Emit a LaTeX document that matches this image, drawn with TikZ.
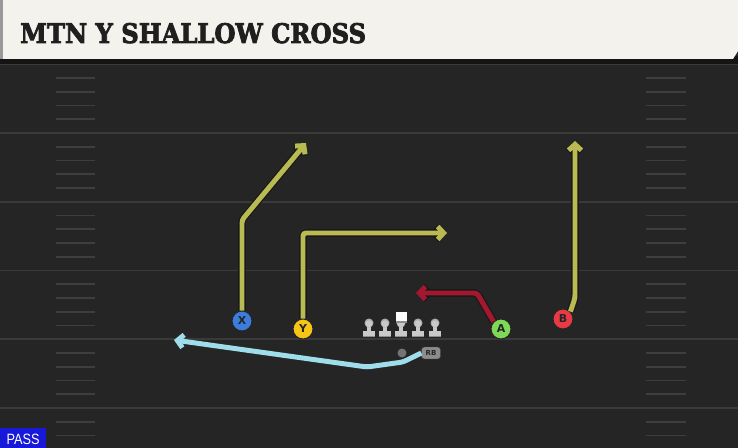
\documentclass[tikz,border=0pt]{standalone}
\usepackage{fontspec}
\setmainfont{DejaVu Sans}
\newfontfamily\titlefont{DejaVu Serif}[BoldFeatures={FakeBold=3}]
\newfontfamily\passfont{Liberation Sans}
\usetikzlibrary{arrows.meta}
\definecolor{field}{HTML}{252525}
\definecolor{yardc}{HTML}{3A3A3A}
\definecolor{hashc}{HTML}{3E3E3E}
\definecolor{cream}{HTML}{F4F2EC}
\definecolor{olive}{HTML}{BABA52}
\definecolor{crimson}{HTML}{A3182F}
\definecolor{skyb}{HTML}{A0DDEA}
\definecolor{xblue}{HTML}{3B7DDD}
\definecolor{yyel}{HTML}{F5C518}
\definecolor{agreen}{HTML}{7ED957}
\definecolor{bred}{HTML}{E83A45}
\definecolor{lmgray}{HTML}{C9C9C9}
\definecolor{passblue}{HTML}{1818D8}
\tikzset{
  player/.style={circle, minimum size=20bp, inner sep=0pt, draw=black!85, line width=1pt,
    font=\bfseries\fontsize{11}{11}\selectfont, text=black!85},
  routeout/.style={draw=black!90, line width=7.6pt, rounded corners=3pt,
    -{Straight Barb[length=6pt,width=13pt]}},
  routein/.style={draw=#1, line width=5pt, rounded corners=3pt,
    -{Straight Barb[length=6pt,width=13pt]}},
  yardline/.style={draw=yardc, line width=2pt},
  hashline/.style={draw=hashc, line width=1.6pt},
  lman/.pic={
    \fill[lmgray!70!black] (-6,9) rectangle (6,14);
    \fill[lmgray] (-6,8.5) rectangle (6,13);
    \fill[lmgray] (-2.2,0) rectangle (2.2,9);
    \fill[lmgray!85!black] (0,0) circle (4.5);
    \fill[lmgray] (0,0.7) circle (3.5);
  },
}
\newcommand{\myroute}[2]{\draw[routeout] #2; \draw[routein=#1] #2;}
\begin{document}
\begin{tikzpicture}[x=1bp,y=-1bp]
\useasboundingbox (0,0) rectangle (738,448);
% field
\fill[field] (0,0) rectangle (738,448);
\foreach \yl in {64.25,133,201.75,270.5,339.25,408}{
  \draw[yardline] (0,\yl) -- (738,\yl);
  \foreach \k in {1,2,3,4}{
    \draw[hashline] (56,\yl+13.75*\k) -- (95,\yl+13.75*\k);
    \draw[hashline] (646,\yl+13.75*\k) -- (686,\yl+13.75*\k);
  }
}
% title bar
\fill[black!92] (0,56) rectangle (738,64);
\fill[cream] (0,0) -- (738,0) -- (738,51) -- (733,59) -- (0,59) -- cycle;
\fill[black!40] (0,0) rectangle (3,59);
\node[anchor=base west, inner sep=0pt, text=black!88,
  font=\titlefont\bfseries\fontsize{27}{27}\selectfont] (title) at (20,43) {\scalebox{0.9}[1]{MTN Y SHALLOW CROSS}};
% players
\node[player, fill=xblue] (X) at (242,321) {X};
\node[player, fill=yyel] (Y) at (303,329) {Y};
\node[player, fill=agreen] (A) at (501,329) {A};
\node[player, fill=bred] (B) at (563,319) {B};
% line
\foreach \lx in {369,385,418,435}{ \pic at (\lx,323) {lman}; }
\pic at (401,323) {lman};
\fill[lmgray!70!black] (395.5,312.5) rectangle (406.5,323);
\fill[white!92!lmgray] (395.5,312) rectangle (406.5,321.5);
\node[circle, fill=black!55, minimum size=9pt, inner sep=0pt] (QB) at (402,353) {};
\node[draw=black!70, fill=black!45, rounded corners=3pt, minimum width=19pt, minimum height=12pt,
  inner sep=0pt, font=\bfseries\fontsize{7}{7}\selectfont, text=black!85] (RB) at (431,353) {RB};
% route end coordinates
\coordinate (xb) at (242,220);
\coordinate (xe) at (306,143);
\coordinate (yb) at (303,233);
\coordinate (ye) at (447,233);
\coordinate (ab) at (477,293);
\coordinate (ae) at (416,293);
\coordinate (bb) at (575,298);
\coordinate (be) at (575,141);
\coordinate (r1) at (403,362);
\coordinate (r2) at (367,367);
\coordinate (re) at (174,340);
% routes
\myroute{olive}{(X.north) -- (xb) -- (xe)}
\myroute{olive}{(Y.north) -- (yb) -- (ye)}
\myroute{crimson}{(A.north west) -- (ab) -- (ae)}
\myroute{olive}{(B.north east) -- (bb) -- (be)}
\draw[draw=skyb, line width=5pt, rounded corners=3pt, -{Straight Barb[length=6pt,width=13pt]}]
  (RB.west) -- (r1) -- (r2) -- (re);
% pass tag
\fill[passblue] (0,428) rectangle (46,448);
\node[text=white, font=\passfont\fontsize{15}{15}\selectfont, inner sep=0pt] (pass) at (23,439) {\scalebox{0.85}[1]{PASS}};
\end{tikzpicture}
\end{document}
